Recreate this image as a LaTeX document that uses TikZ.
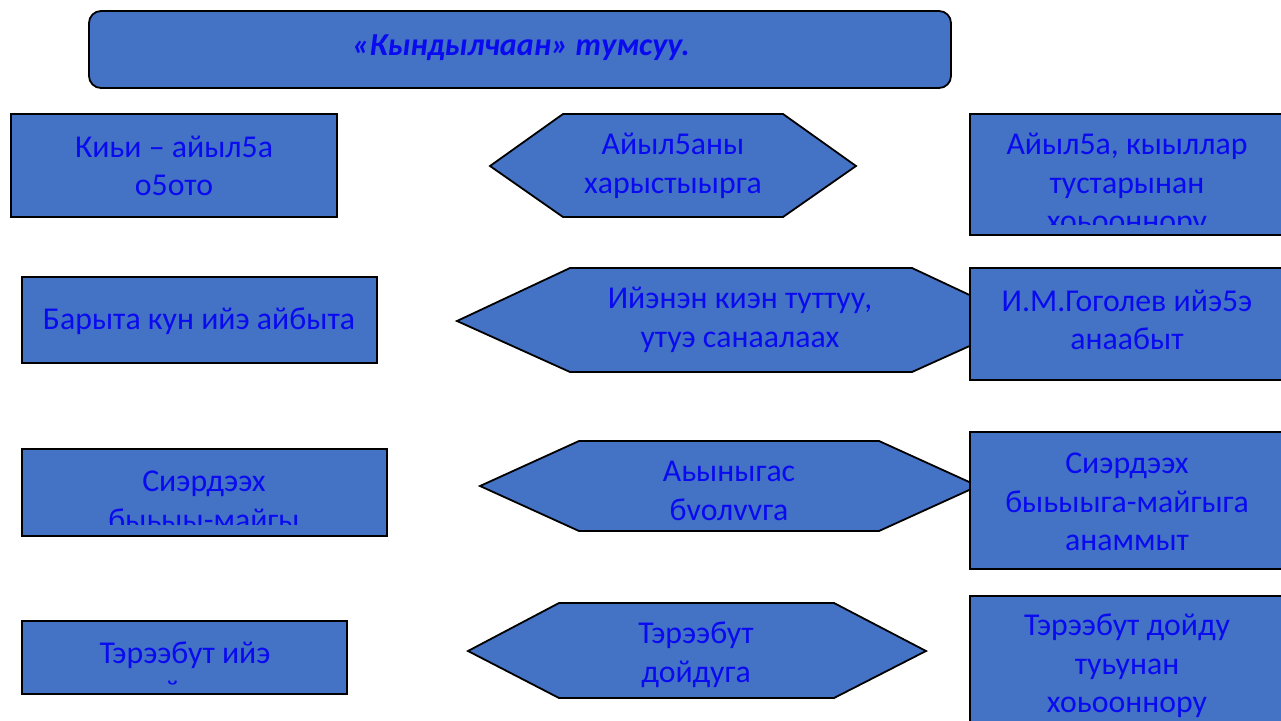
\documentclass[tikz,border=0pt]{standalone}
\usepackage{fontspec}
\setmainfont{Carlito}
\definecolor{boxblue}{HTML}{4472C4}
\definecolor{txtblue}{HTML}{0A0AF0}
\tikzset{
  blk/.style={draw=black, fill=boxblue, line width=1.8pt, line join=miter},
  lbl/.style={text=txtblue, align=center, inner sep=0pt,
    font=\fontsize{31.8}{38.5}\selectfont}
}

\begin{document}
\begin{tikzpicture}[x=1pt,y=-1pt]
\useasboundingbox (0,0) rectangle (1281,720);
\clip (0,0) rectangle (1281,720);
% title
\draw[blk, rounded corners=12pt] (89,11) rectangle (951,88);
\node[lbl, font=\fontsize{32}{38}\selectfont\bfseries\itshape] (title) at (521,48) {«Кындылчаан» тумсуу.};
% left column
\draw[blk] (11,114) rectangle (337,217);
\node[lbl] (kiji) at (174,166) {Киьи – айыл5а\\о5ото};
\draw[blk] (22,277) rectangle (377,363);
\node[lbl] (baryta) at (199,321) {Барыта кун ийэ айбыта};
\draw[blk] (22,449) rectangle (387,536);
\begin{scope}
\clip (22,449) rectangle (387,524);
\node[lbl] (sierdeekh) at (204,501) {Сиэрдээх\\быьыы-майгы};
\end{scope}
\draw[blk] (22,621) rectangle (347,694);
\begin{scope}
\clip (22,621) rectangle (347,684);
\node[lbl] (tereebut) at (185,675) {Тэрээбут ийэ\\дойдута};
\end{scope}
% middle column
\draw[blk] (490,166) -- (563,114) -- (783,114) -- (856,166) -- (783,217) -- (563,217) -- cycle;
\node[lbl] (aiylgany) at (673,166) {Айыл5аны\\харыстыырга};
\draw[blk] (457,321) -- (570,268) -- (912,268) -- (1025,321) -- (912,372) -- (570,372) -- cycle;
\node[lbl] (ijenen) at (740,320) {Ийэнэн киэн туттуу,\\утуэ санаалаах};
\draw[blk] (480,486) -- (579,441) -- (879,441) -- (978,486) -- (879,531) -- (579,531) -- cycle;
\node[lbl] (ahynygas) at (729,491) {Аьыныгас\\бvолvvга};
\draw[blk] (468,651) -- (559,603) -- (834,603) -- (926,651) -- (834,698) -- (559,698) -- cycle;
\node[lbl] (dojduga) at (696,655) {Тэрээбут\\дойдуга};
% right column
\draw[blk] (970,114) rectangle (1285,235);
\begin{scope}
\clip (970,114) rectangle (1285,224);
\node[lbl] (kyyllar) at (1127,185) {Айыл5а, кыыллар\\тустарынан\\хоьооннору};
\end{scope}
\draw[blk] (970,268) rectangle (1285,380);
\node[lbl] (gogolev) at (1127,320) {И.М.Гоголев ийэ5э\\анаабыт};
\draw[blk] (970,432) rectangle (1285,569);
\node[lbl] (anammyt) at (1127,502) {Сиэрдээх\\быьыыга-майгыга\\анаммыт};
\draw[blk] (970,596) rectangle (1285,740);
\node[lbl] (tuhunan) at (1127,666) {Тэрээбут дойду\\туьунан\\хоьооннору};
\end{tikzpicture}
\end{document}
